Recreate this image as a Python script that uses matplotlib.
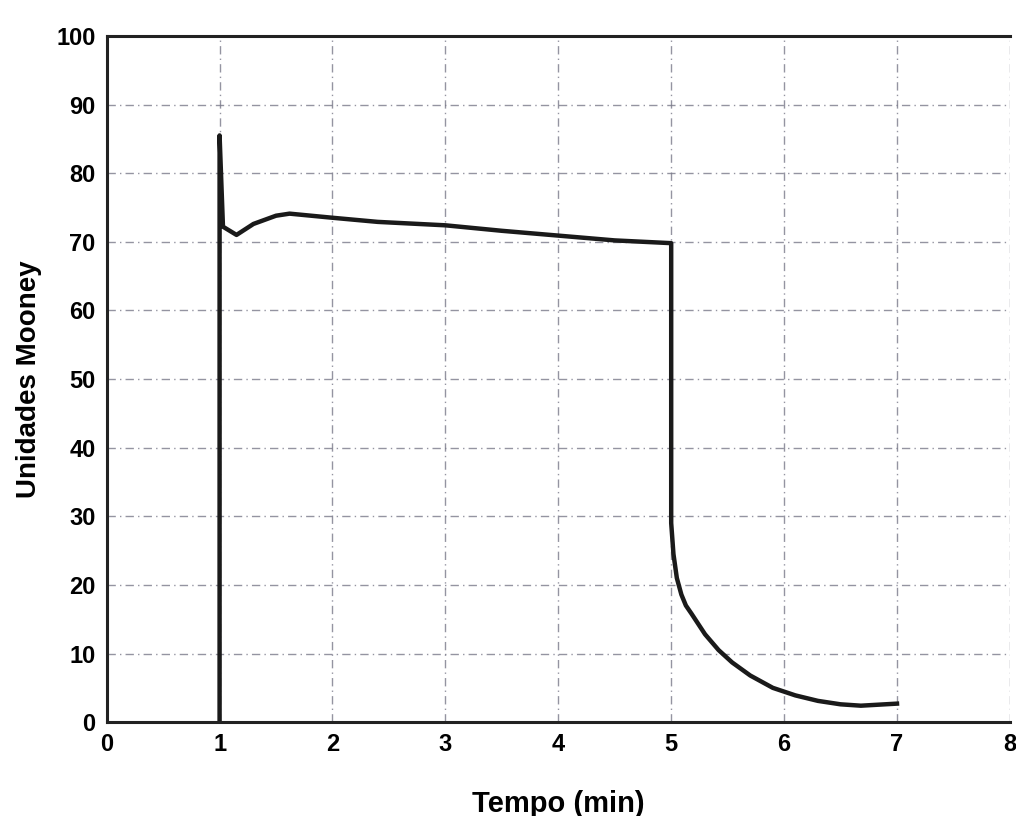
import matplotlib.pyplot as plt

# Mooney viscosity curve
tempo = [1.0, 1.0, 1.03, 1.15, 1.3, 1.5, 1.62, 2.0, 2.4, 3.0, 3.5, 4.0, 4.5, 5.0,
         5.0, 5.02, 5.05, 5.09, 5.13, 5.18, 5.3, 5.42, 5.54, 5.7, 5.9, 6.1, 6.3, 6.5, 6.68, 7.0]
mooney = [0.0, 85.5, 72.2, 71.0, 72.6, 73.8, 74.1, 73.5, 72.9, 72.4, 71.6, 70.9, 70.2, 69.8,
          29.0, 24.5, 21.0, 18.6, 17.0, 15.8, 12.8, 10.5, 8.7, 6.8, 5.0, 3.9, 3.1, 2.6, 2.4, 2.7]

xticks = [0, 1, 2, 3, 4, 5, 6, 7, 8]
yticks = [0, 10, 20, 30, 40, 50, 60, 70, 80, 90, 100]

plt.rcParams["font.family"] = ["Liberation Sans", "DejaVu Sans"]

fig = plt.figure(figsize=(10.16, 8.16), dpi=100)
ax = fig.add_axes([0.105, 0.115, 0.889, 0.841])

ax.plot(tempo, mooney, color="#1a1a1a", lw=3.2, solid_joinstyle="round")

ax.set_xlim(0, 8)
ax.set_ylim(0, 100)
ax.set_xticks(xticks)
ax.set_yticks(yticks)
ax.tick_params(length=0, labelsize=17, pad=8)
for lab in ax.get_xticklabels() + ax.get_yticklabels():
    lab.set_fontweight("bold")

ax.grid(True, color="#7a7a8a", lw=1.0, ls=(0, (6, 3, 1, 3)), alpha=0.8)

for side in ["left", "top", "bottom"]:
    ax.spines[side].set_linewidth(2.2)
    ax.spines[side].set_color("#222222")
ax.spines["right"].set_visible(False)

ax.set_xlabel("Tempo (min)", fontsize=21, fontweight="bold", labelpad=24)
ax.set_ylabel("Unidades Mooney", fontsize=20, fontweight="bold", labelpad=10)

fig.savefig("out.png", dpi=100, facecolor="white")
